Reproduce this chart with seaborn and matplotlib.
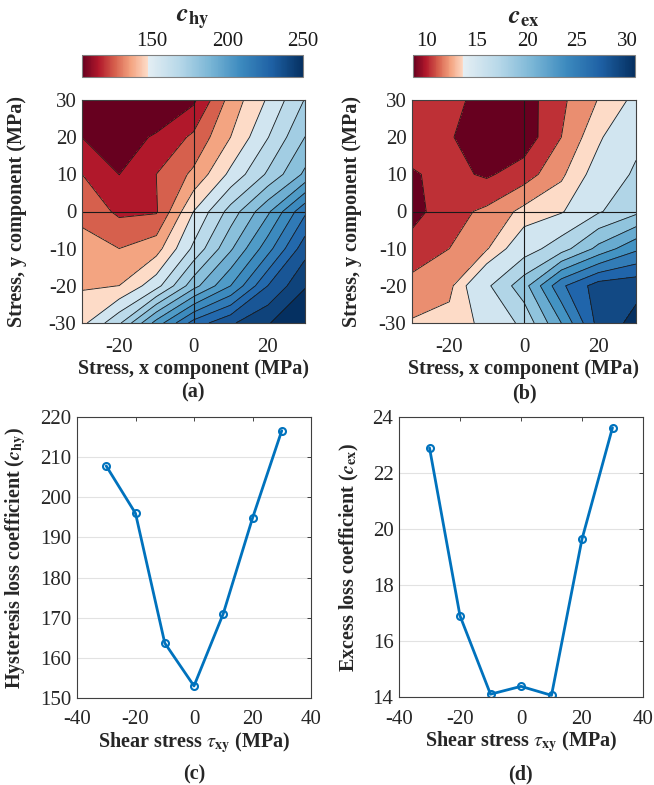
import numpy as np
import pandas as pd
import matplotlib
matplotlib.use('Agg')
import matplotlib.pyplot as plt
import seaborn as sns
from matplotlib.colors import LinearSegmentedColormap, Normalize
from matplotlib.cm import ScalarMappable

# stress grid of the two maps (MPa)
stress_x = [-30, -20, -10, 0, 10, 20, 30]
stress_y = [-30, -20, -10, 0, 10, 20, 30]

# hysteresis loss coefficient map, rows go from y = -30 up to y = 30
c_hy_map = [
    [144.4, 162.5, 193.4, 219.1, 231.5, 240.7, 250.0],
    [137.5, 138.4, 152.2, 177.9, 198.5, 224.3, 240.7],
    [133.2, 129.8, 134.9, 157.3, 180.0, 203.7, 229.4],
    [127.2, 119.5, 120.3, 147.0, 167.6, 188.2, 214.0],
    [121.2, 112.5, 121.2, 131.5, 149.1, 165.5, 183.1],
    [112.5, 109.2, 113.5, 122.9, 138.4, 155.2, 172.8],
    [105.5, 104.0, 106.0, 110.9, 133.2, 148.0, 164.6],
]

# excess loss coefficient map, same layout
c_ex_map = [
    [13.1, 13.4, 14.3, 16.5, 22.0, 28.8, 30.6],
    [12.3, 12.7, 15.6, 19.2, 25.6, 29.0, 29.4],
    [11.45, 12.0, 12.9, 15.0, 17.1, 20.6, 23.6],
    [10.6, 11.65, 12.2, 13.3, 13.85, 15.8, 17.5],
    [10.9, 11.3, 10.85, 11.5, 12.8, 14.6, 16.3],
    [11.5, 11.1, 10.3, 10.4, 12.0, 13.8, 15.5],
    [11.5, 11.4, 10.5, 10.5, 11.8, 13.05, 14.3],
]

# colour ranges and the value where the map turns from red to blue
c_hy_range = [104, 250]
c_hy_split = 147
c_hy_ticks = [150, 200, 250]
c_ex_range = [8.6, 30.8]
c_ex_split = 13.6
c_ex_ticks = [10, 15, 20, 25, 30]

# coefficients versus shear stress
shear = [-30, -20, -10, 0, 10, 20, 30]
c_hy_shear = [207.8, 196.0, 163.7, 153.0, 171.0, 194.8, 216.6]
c_ex_shear = [22.9, 16.9, 14.1, 14.38, 14.06, 19.64, 23.62]

sns.set_theme(style='white')
plt.rcParams['font.family'] = ['Liberation Serif', 'DejaVu Serif']
plt.rcParams['mathtext.fontset'] = 'stix'
plt.rcParams['axes.unicode_minus'] = False
plt.rcParams['axes.edgecolor'] = '#404040'
plt.rcParams['axes.linewidth'] = 0.8

rdbu = plt.get_cmap('RdBu')
W, H = 654, 785
TICK_FS = 15
LABEL_FS = 14.5


def box(l, t, r, b):
    return [l / W, (H - b) / H, (r - l) / W, (b - t) / H]


def band_colors(levels, split):
    mids = [(a + b) / 2 for a, b in zip(levels[:-1], levels[1:])]
    n_red = sum(m < split for m in mids)
    n_blue = len(mids) - n_red
    reds = [rdbu(0.4 * i / (n_red - 1)) for i in range(n_red)]
    blues = [rdbu(0.6 + 0.4 * j / (n_blue - 1)) for j in range(n_blue)]
    return reds + blues


def bar_cmap(vmin, vmax, split):
    s = (split - vmin) / (vmax - vmin)
    red_pos = np.linspace(0, s, 5)
    blue_pos = np.linspace(s + 0.002, 1.0, 6)
    pts = [(p, rdbu(t)) for p, t in zip(red_pos, np.linspace(0, 0.4, 5))]
    pts += [(p, rdbu(t)) for p, t in zip(blue_pos, np.linspace(0.55, 1.0, 6))]
    return LinearSegmentedColormap.from_list('split', pts)


def style_ticks(ax, xpad):
    ax.tick_params(direction='in', top=True, right=True, length=3,
                   width=0.6, labelsize=TICK_FS)
    ax.tick_params(axis='x', pad=xpad)
    ax.tick_params(axis='y', pad=4)


def stress_map(ax, cax, z, levels, split, vrange, ticks, title, ylab_x):
    X, Y = np.meshgrid(stress_x, stress_y)
    Z = np.array(z)
    ax.contourf(X, Y, Z, levels=levels, colors=band_colors(levels, split))
    ax.contour(X, Y, Z, levels=levels[1:-1], colors='k', linewidths=0.6)
    ax.axhline(0, color='k', lw=0.8)
    ax.axvline(0, color='k', lw=0.8)
    ax.set_xlim(-30, 30)
    ax.set_ylim(-30, 30)
    ax.set_xticks([-20, 0, 20])
    ax.set_yticks([-30, -20, -10, 0, 10, 20, 30])
    style_ticks(ax, 11)
    ax.set_xlabel('Stress, x component (MPa)', fontsize=LABEL_FS,
                  fontweight='bold')
    ax.set_ylabel('Stress, y component (MPa)', fontsize=LABEL_FS,
                  fontweight='bold')
    ax.xaxis.set_label_coords(0.5, -0.16)
    ax.yaxis.set_label_coords(ylab_x, 0.5)

    sm = ScalarMappable(norm=Normalize(*vrange),
                        cmap=bar_cmap(vrange[0], vrange[1], split))
    cb = plt.colorbar(sm, cax=cax, orientation='horizontal')
    cb.set_ticks(ticks)
    cax.xaxis.set_ticks_position('top')
    cax.tick_params(direction='in', length=2, width=0.6, labelsize=TICK_FS,
                    pad=3, colors='#404040', labelcolor='k')
    cb.outline.set_edgecolor('#808080')
    cax.set_title(title, fontsize=19, pad=6)


def shear_plot(ax, values, ylabel, ylim, yticks, ylab_x):
    df = pd.DataFrame({'shear': shear, 'c': values})
    sns.lineplot(data=df, x='shear', y='c', ax=ax, color='#0072BD',
                 linewidth=2, marker='o', markersize=5,
                 markerfacecolor='none', markeredgecolor='#0072BD',
                 markeredgewidth=1.5)
    ax.set_xlim(-40, 40)
    ax.set_xticks([-40, -20, 0, 20, 40])
    ax.set_ylim(*ylim)
    ax.set_yticks(yticks)
    ax.yaxis.grid(True, color='#e2e2e2', lw=0.8)
    style_ticks(ax, 9)
    ax.set_xlabel(r'Shear stress $\tau_{\mathbf{xy}}$ (MPa)',
                  fontsize=LABEL_FS, fontweight='bold')
    ax.set_ylabel(ylabel, fontsize=LABEL_FS, fontweight='bold')
    ax.xaxis.set_label_coords(0.5, -0.115)
    ax.yaxis.set_label_coords(ylab_x, 0.5)


fig = plt.figure(figsize=(W / 100, H / 100), dpi=100)

ax_a = fig.add_axes(box(82, 100, 305, 323))
cax_a = fig.add_axes(box(82, 55, 303, 77))
stress_map(ax_a, cax_a, c_hy_map, np.linspace(104, 250, 18), c_hy_split,
           c_hy_range, c_hy_ticks, r'$\mathbfit{c}_{\mathbf{hy}}$', -0.245)

ax_b = fig.add_axes(box(412, 100, 636, 323))
cax_b = fig.add_axes(box(413, 55, 635, 77))
stress_map(ax_b, cax_b, c_ex_map,
           [8.6, 11, 12, 13, 14, 16, 18, 20, 22, 24, 26, 28, 30, 30.8],
           c_ex_split, c_ex_range, c_ex_ticks, r'$\mathbfit{c}_{\mathbf{ex}}$',
           -0.225)

ax_c = fig.add_axes(box(77, 417, 311, 698))
shear_plot(ax_c, c_hy_shear,
           r'Hysteresis loss coefficient ($\mathbfit{c}_{\mathbf{hy}}$)',
           (150, 220), range(150, 221, 10), -0.21)

ax_d = fig.add_axes(box(399, 417, 643, 697))
shear_plot(ax_d, c_ex_shear,
           r'Excess loss coefficient ($\mathbfit{c}_{\mathbf{ex}}$)',
           (14, 24), range(14, 25, 2), -0.155)

for label, x, y in [('(a)', 193, 392), ('(b)', 524, 393),
                    ('(c)', 194, 774), ('(d)', 520, 774)]:
    fig.text(x / W, 1 - y / H, label, ha='center', va='center',
             fontsize=LABEL_FS, fontweight='bold')

fig.savefig('out.png', dpi=100)
